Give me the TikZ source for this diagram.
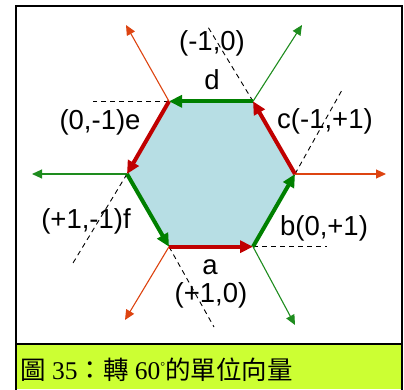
\documentclass[tikz,border=0pt]{standalone}
\usepackage{fontspec}
\setmainfont{Liberation Sans}
\newfontfamily\capserif{Liberation Serif}
\newfontfamily\cjk{Noto Sans CJK TC}
\usetikzlibrary{arrows.meta}
\definecolor{edgered}{RGB}{192,0,0}
\definecolor{edgegreen}{RGB}{0,128,0}
\definecolor{rayorange}{RGB}{221,68,17}
\definecolor{raygreen}{RGB}{30,140,30}
\definecolor{hexfill}{RGB}{183,222,228}
\definecolor{capband}{RGB}{204,255,51}
\tikzset{
  edgearrow/.style={line width=4pt,-{Triangle[length=13pt,width=12pt]}},
  rayarrow/.style={line width=1.1pt,-{Triangle[length=10pt,width=9pt]}},
  guide/.style={line width=0.9pt,dash pattern=on 5pt off 4pt},
  lab/.style={font=\fontsize{27.5}{28}\selectfont,inner sep=0pt}
}
\begin{document}
\begin{tikzpicture}[x=1pt,y=1pt]
\useasboundingbox (0,0) rectangle (404,389);
% caption band and frame
\fill[capband] (15.5,0) rectangle (401.5,45.5);
\draw[line width=2pt] (15.5,-2) -- (15.5,382.5) -- (401.5,382.5) -- (401.5,-2);
\draw[line width=2pt] (15.5,45.5) -- (401.5,45.5);
\node[anchor=west,inner sep=0pt] (cap) at (20,19)
  {\fontsize{25.5}{26}\selectfont\cjk 圖\capserif{} 35\cjk ：轉\capserif{} 60\raisebox{0.35em}{\fontsize{12}{12}\selectfont°}\cjk 的單位向量};
% hexagon vertices
\coordinate (A) at (169,142.3);
\coordinate (B) at (253,142.3);
\coordinate (C) at (295,215);
\coordinate (D) at (253,287.7);
\coordinate (E) at (169,287.7);
\coordinate (F) at (127,215);
\fill[hexfill] (A) -- (B) -- (C) -- (D) -- (E) -- (F) -- cycle;
% ray ends
\coordinate (Er) at (126,364);
\coordinate (Dr) at (302,364);
\coordinate (Cr) at (386,215);
\coordinate (Fr) at (32,215);
\coordinate (Ar) at (125,69);
\coordinate (Br) at (295,64);
% guide ends
\coordinate (Eg) at (93,287.7);
\coordinate (Dg) at (208,362);
\coordinate (Cg) at (342,299);
\coordinate (Bg) at (327,142.3);
\coordinate (Ag) at (214,62);
\coordinate (Fg) at (73,126);
% labels
\node[lab] (lm10) at (212,346) {(-1,0)};
\node[lab] (ld) at (212,309) {d};
\node[lab] (lc) at (325,268) {c(-1,+1)};
\node[lab] (le) at (100,267) {(0,-1)e};
\node[lab] (lf) at (86,168) {(+1,-1)f};
\node[lab] (lb) at (324,161) {b(0,+1)};
\node[lab] (la) at (210,122) {a};
\node[lab] (lp10) at (211,94) {(+1,0)};
% guides
\draw[guide] (E) -- (Eg);
\draw[guide] (D) -- (Dg);
\draw[guide] (C) -- (Cg);
\draw[guide] (B) -- (Bg);
\draw[guide] (A) -- (Ag);
\draw[guide] (F) -- (Fg);
% rays
\draw[rayarrow,rayorange] (E) -- (Er);
\draw[rayarrow,raygreen] (D) -- (Dr);
\draw[rayarrow,rayorange] (C) -- (Cr);
\draw[rayarrow,raygreen] (F) -- (Fr);
\draw[rayarrow,rayorange] (A) -- (Ar);
\draw[rayarrow,raygreen] (B) -- (Br);
% edges
\draw[edgearrow,edgered] (A) -- (B);
\draw[edgearrow,edgegreen] (B) -- (C);
\draw[edgearrow,edgered] (C) -- (D);
\draw[edgearrow,edgegreen] (D) -- (E);
\draw[edgearrow,edgered] (E) -- (F);
\draw[edgearrow,edgegreen] (F) -- (A);
\end{tikzpicture}
\end{document}
